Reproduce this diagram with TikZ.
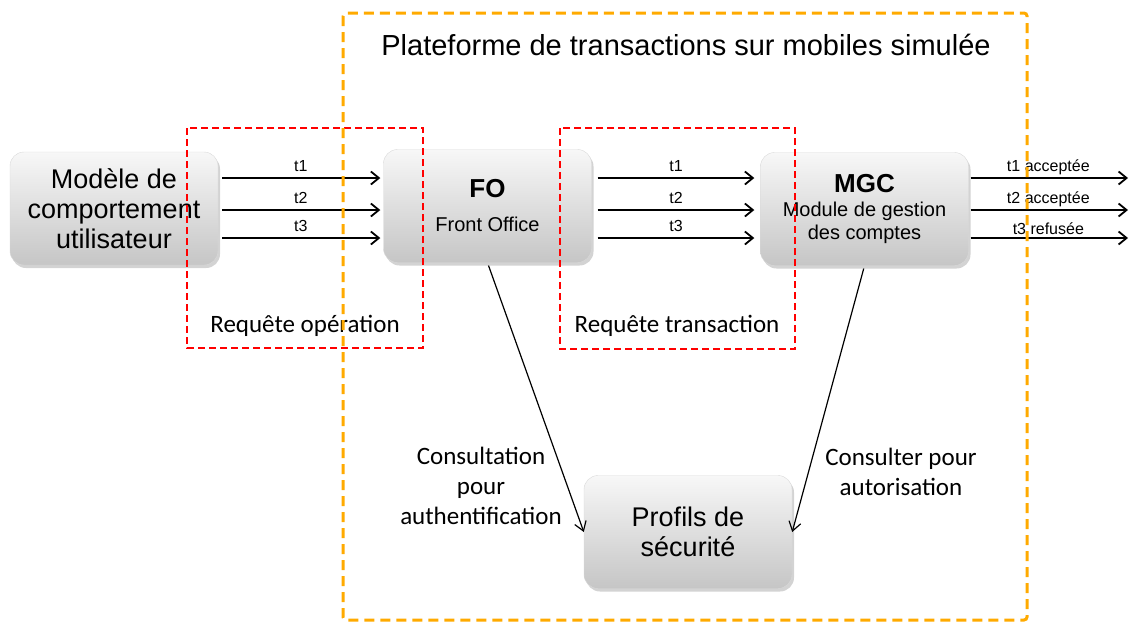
\documentclass[tikz,border=0pt]{standalone}
\usepackage{fontspec}
\setmainfont{Liberation Sans}
\newfontfamily\notefont{Carlito}
\usetikzlibrary{arrows,arrows.meta,shadows}
\definecolor{platorange}{RGB}{255,170,0}
\tikzstyle{block} = [draw=gray!30, rounded corners=14pt, top color=gray!6, bottom color=gray!45, minimum width=208pt, minimum height=113pt, align=center, font=\fontsize{27}{30}\selectfont, drop shadow={opacity=0.35, shadow xshift=2pt, shadow yshift=-3pt}]
\tikzstyle{flow} = [-{Straight Barb[length=8pt,width=13pt]}, line width=1.8pt, black]
\tikzstyle{consult} = [-{Straight Barb[length=9pt,width=12pt]}, line width=1.2pt, black]
\tikzstyle{tlabel} = [font=\fontsize{16}{18}\selectfont, inner sep=0pt]
\tikzstyle{note} = [font=\notefont\fontsize{25}{30}\selectfont, align=center]
\tikzstyle{redframe} = [draw=red, line width=2.2pt, dash pattern=on 7pt off 4pt]
\tikzstyle{orangeframe} = [draw=platorange, line width=3pt, dash pattern=on 10pt off 6pt, rounded corners=3pt]
\newcommand{\headtxt}[1]{{\fontsize{26}{30}\selectfont\bfseries #1}}
\newcommand{\subtxt}{\fontsize{20}{23}\selectfont}

\begin{document}
\begin{tikzpicture}[x=1pt, y=-1pt]
\useasboundingbox (0,0) rectangle (1130,625);
% blocs
\node[block] (user) at (114,208.5) {Modèle de\\comportement\\utilisateur};
\node[block] (fo) at (487.5,206) {\headtxt{FO}\\[4pt]{\subtxt Front Office}};
\node[block, font=\subtxt] (mgc) at (864.5,209) {\headtxt{MGC}\\[1pt]Module de gestion\\des comptes};
\node[block] (profils) at (688,532) {Profils de\\sécurité};
% requetes
\foreach \y/\t in {178/t1,210/t2,238/t3}{
  \draw[flow, shorten <=4pt, shorten >=3pt] (user.east |- 0,\y) -- node[tlabel, above=5pt] {\t} (fo.west |- 0,\y);
  \draw[flow, shorten <=6pt, shorten >=6pt] (fo.east |- 0,\y) -- node[tlabel, above=5pt] {\t} (mgc.west |- 0,\y);
}
\coordinate (out1) at (1128,178);
\coordinate (out2) at (1128,210);
\coordinate (out3) at (1128,238);
\draw[flow, shorten <=2pt] (mgc.east |- out1) -- node[tlabel, above=2pt] {t1 acceptée} (out1);
\draw[flow, shorten <=2pt] (mgc.east |- out2) -- node[tlabel, above=2pt] {t2 acceptée} (out2);
\draw[flow, shorten <=2pt] (mgc.east |- out3) -- node[tlabel, above=2pt] {t3 refusée} (out3);
% consultation
\draw[consult, shorten <=3pt] (fo.south) -- (profils.west);
\draw[consult, shorten <=3pt] (mgc.south) -- (profils.east);
\node[note] (auth) at (481,486) {Consultation\\pour\\authentification};
\node[note] (autor) at (901,472) {Consulter pour\\autorisation};
% cadres
\draw[redframe] (187,128) rectangle (423,348);
\draw[redframe] (560,128) rectangle (795,349);
\node[note] (reqop) at (305,326) {Requête opération};
\node[note] (reqtr) at (677,326) {Requête transaction};
\draw[orangeframe] (343,13) rectangle (1027,620);
\node[font=\fontsize{29}{32}\selectfont] (titre) at (686,45) {Plateforme de transactions sur mobiles simulée};
\end{tikzpicture}
\end{document}
